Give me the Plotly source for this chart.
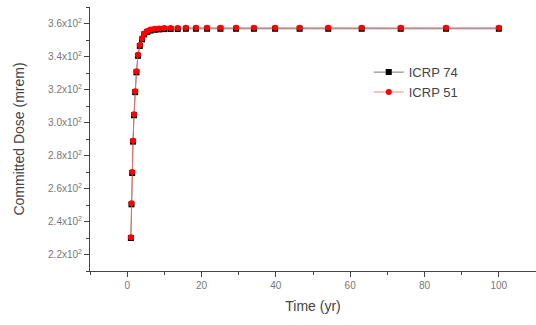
import plotly.graph_objects as go

time_yr = [1.0, 1.16, 1.35, 1.58, 1.84, 2.15, 2.5, 2.9, 3.4, 4.0, 4.6, 5.4, 6.3,
           7.4, 8.6, 10.0, 11.7, 13.6, 15.8, 18.5, 21.5, 25.1, 29.3, 34.1, 39.8,
           46.4, 54.1, 63.1, 73.6, 85.8, 100.0]
icrp51 = [230.5, 251, 270, 289, 305, 319, 331, 341, 347, 351, 354, 355.5, 356.3,
          356.8, 357, 357.2, 357.3, 357.3, 357.4, 357.4, 357.4, 357.4, 357.4, 357.4,
          357.4, 357.4, 357.4, 357.4, 357.4, 357.4, 357.4]
icrp74 = [230.0, 250.4, 269.4, 288.4, 304.4, 318.4, 330.4, 340.4, 346.4, 350.4,
          353.4, 354.9, 355.7, 356.2, 356.4, 356.6, 356.7, 356.7, 356.8, 356.8,
          356.8, 356.8, 356.8, 356.8, 356.8, 356.8, 356.8, 356.8, 356.8, 356.8, 356.8]

y_tick_vals = [220, 240, 260, 280, 300, 320, 340, 360]
y_tick_text = ["2.2x10<sup>2</sup>", "2.4x10<sup>2</sup>", "2.6x10<sup>2</sup>",
               "2.8x10<sup>2</sup>", "3.0x10<sup>2</sup>", "3.2x10<sup>2</sup>",
               "3.4x10<sup>2</sup>", "3.6x10<sup>2</sup>"]
x_tick_vals = [0, 20, 40, 60, 80, 100]

fig = go.Figure()
fig.add_trace(go.Scatter(
    x=time_yr, y=icrp74, name="ICRP 74", mode="lines+markers",
    line=dict(color="#555555", width=0.8),
    marker=dict(symbol="square", size=6, color="black")))
fig.add_trace(go.Scatter(
    x=time_yr, y=icrp51, name="ICRP 51", mode="lines+markers",
    line=dict(color="#ff6666", width=0.8),
    marker=dict(symbol="circle", size=6, color="#ff0000")))

fam = "Liberation Sans, Arial, sans-serif"
axis_font = dict(family=fam, size=10, color="#777777")
fig.update_layout(
    width=536, height=325,
    margin=dict(l=90, r=0, t=7, b=54),
    paper_bgcolor="white", plot_bgcolor="white",
    showlegend=True,
    legend=dict(x=0.625, y=0.81, xanchor="left", yanchor="top",
                bgcolor="rgba(0,0,0,0)", tracegroupgap=0, itemwidth=30,
                font=dict(family=fam, size=13, color="#444444")),
    xaxis=dict(range=[-10, 110], tickvals=x_tick_vals, showgrid=False, zeroline=False,
               showline=True, linecolor="#444444", linewidth=1,
               ticks="outside", ticklen=5, tickcolor="#444444",
               minor=dict(ticks="outside", ticklen=3, dtick=10, tick0=0, tickcolor="#444444"),
               tickfont=axis_font,
               title=dict(text="Time (yr)", standoff=11,
                          font=dict(family=fam, size=14, color="#444444"))),
    yaxis=dict(range=[210, 370], tickvals=y_tick_vals, ticktext=y_tick_text,
               showgrid=False, zeroline=False,
               showline=True, linecolor="#444444", linewidth=1,
               ticks="outside", ticklen=5, tickcolor="#444444",
               minor=dict(ticks="outside", ticklen=3, dtick=10, tick0=210, tickcolor="#444444"),
               tickfont=axis_font,
               title=dict(text="Committed Dose (mrem)", standoff=20,
                          font=dict(family=fam, size=14, color="#444444"))),
)
fig.write_html("out.html", config={"displayModeBar": False},
               post_script="document.body.style.margin='0';document.body.style.overflow='hidden';")
